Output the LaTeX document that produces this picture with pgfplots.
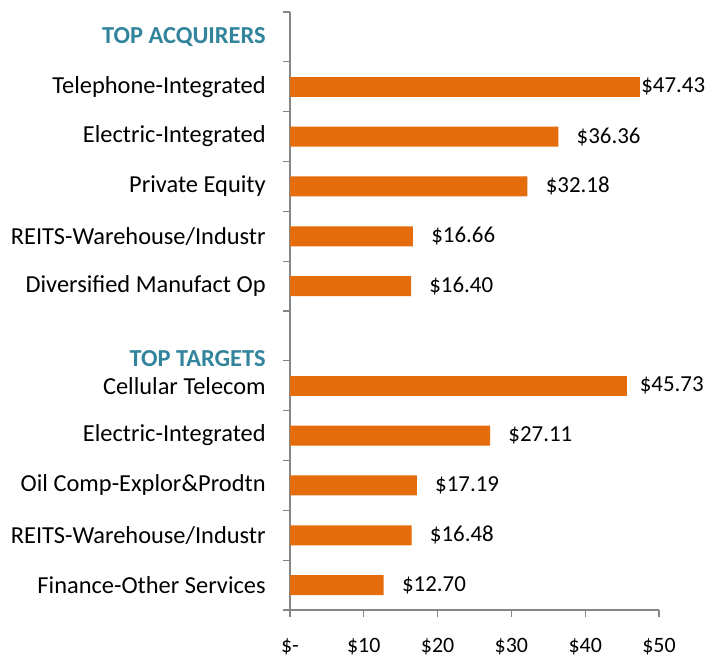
\documentclass[border=0pt]{standalone}
\usepackage{pgfplots}
\pgfplotsset{compat=1.18}
\usepackage{fontspec}
\setmainfont{Carlito}
\definecolor{barorange}{HTML}{E46C0A}
\definecolor{headteal}{HTML}{31849B}
\definecolor{axisgray}{HTML}{868686}

\begin{document}
\fontsize{24.5}{29}\selectfont
\begin{tikzpicture}
\begin{axis}[
    name=ax,
    scale only axis,
    width=369bp, height=598bp,
    xbar, bar width=20bp, bar shift=0pt,
    xmin=0, xmax=50,
    ymin=0.5, ymax=12.5, y dir=reverse,
    axis x line*=bottom, axis y line*=left,
    axis line style={axisgray, line width=1.2bp},
    tick align=outside, major tick length=7bp,
    tick style={axisgray, line width=1.2bp},
    /pgf/number format/assume math mode=true,
    xtick={0,10,...,50},
    xticklabels={\$-,\$10,\$20,\$30,\$40,\$50},
    xticklabel style={yshift=-13bp, font=\fontsize{22}{26}\selectfont},
    ytick={0.5,1.5,...,12.5},
    yticklabels={},
    extra y ticks={1,2,3,4,5,6,7.45,8,9,10,11,12},
    extra y tick labels={
        {\textcolor{headteal}{\bfseries TOP ACQUIRERS}},
        Telephone-Integrated,
        Electric-Integrated,
        Private Equity,
        REITS-Warehouse/Industr,
        Diversified Manufact Op,
        {\textcolor{headteal}{\bfseries TOP TARGETS}},
        Cellular Telecom,
        Electric-Integrated,
        Oil Comp-Explor\&Prodtn,
        REITS-Warehouse/Industr,
        Finance-Other Services},
    extra y tick style={major tick length=0pt, yticklabel style={xshift=-16bp}},
    point meta=x,
    nodes near coords={\$\pgfmathprintnumber[fixed,fixed zerofill,precision=2]{\pgfplotspointmeta}},
    nodes near coords align=horizontal,
    every node near coord/.append style={anchor=west, black, font=\fontsize{23}{27}\selectfont},
]
% top acquirer, label sits against the bar end
\addplot[fill=barorange, draw=none, every node near coord/.append style={xshift=-7bp}]
    coordinates {(47.43,2)};
% top target, label pulled in a little
\addplot[fill=barorange, draw=none, every node near coord/.append style={xshift=4bp}]
    coordinates {(45.73,8)};
% the rest
\addplot[fill=barorange, draw=none, every node near coord/.append style={xshift=10bp}]
    coordinates {
    (36.36,3) (32.18,4) (16.66,5) (16.40,6)
    (27.11,9) (17.19,10) (16.48,11) (12.70,12)
};
\end{axis}
\pgfresetboundingbox
\useasboundingbox ([xshift=-290bp,yshift=-47bp]ax.south west) rectangle ([xshift=48bp,yshift=12bp]ax.north east);
\end{tikzpicture}
\end{document}
